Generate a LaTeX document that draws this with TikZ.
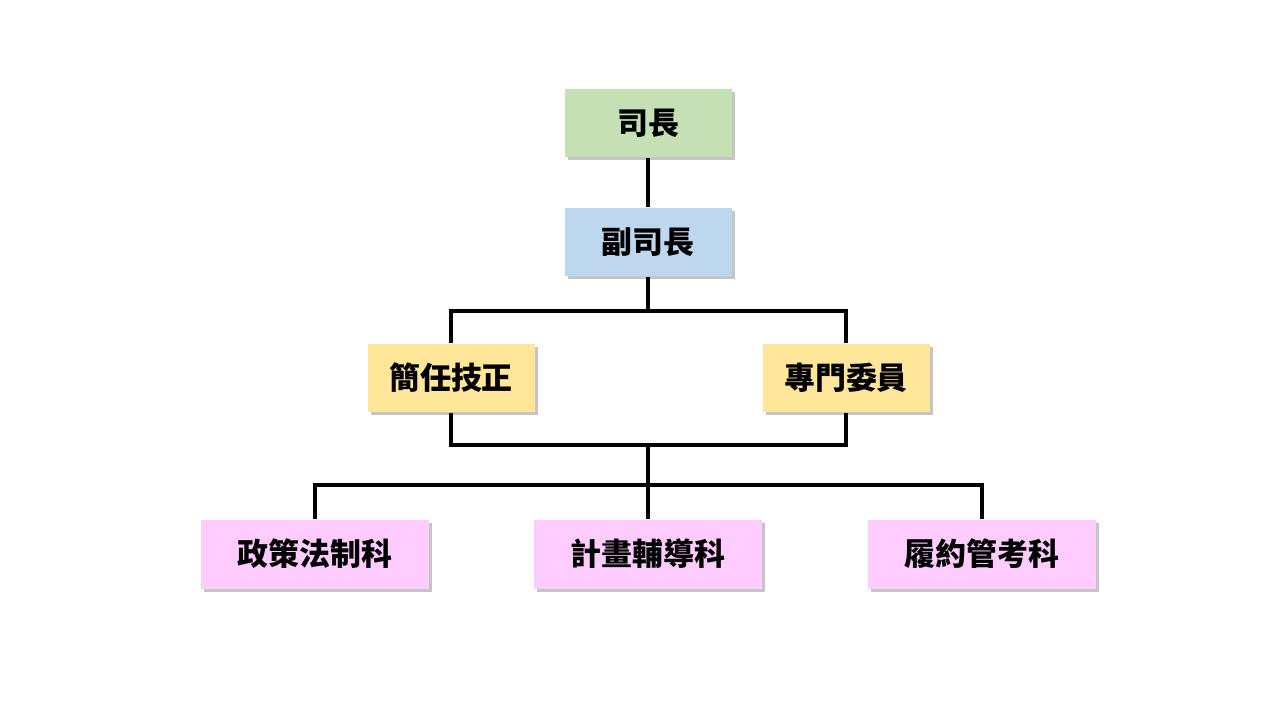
\documentclass[tikz,border=0pt]{standalone}
\usepackage{fontspec}
\newfontfamily\cjk{Noto Sans CJK TC}
\usetikzlibrary{shadows,positioning}
\definecolor{headgreen}{RGB}{197,224,180}
\definecolor{deputyblue}{RGB}{189,215,238}
\definecolor{staffyellow}{RGB}{255,230,153}
\definecolor{sectionpink}{RGB}{255,204,255}
\tikzset{
  box/.style={draw=none, inner sep=0pt, minimum width=1.67cm, minimum height=0.68cm,
    font=\cjk\bfseries\fontsize{8.8pt}{10pt}\selectfont,
    drop shadow={opacity=0.45, shadow xshift=0.3mm, shadow yshift=-0.3mm}},
  wide/.style={box, minimum width=2.28cm, minimum height=0.69cm},
  link/.style={draw=black, line width=1pt}
}
\begin{document}
\begin{tikzpicture}[x=0.1mm, y=0.1mm]
  \useasboundingbox[fill=white] (0,0) rectangle (1280,720);
  \node[box, fill=headgreen] (head) at (648,597) {司長};
  \node[box, fill=deputyblue] (deputy) at (648,478) {副司長};
  \node[box, fill=staffyellow] (tech) at (451,342) {簡任技正};
  \node[box, fill=staffyellow] (comm) at (846,342) {專門委員};
  \node[wide, fill=sectionpink] (law) at (315,166) {政策法制科};
  \node[wide, fill=sectionpink] (plan) at (648,166) {計畫輔導科};
  \node[wide, fill=sectionpink] (audit) at (982,166) {履約管考科};
  \coordinate (split) at (648,409);
  \coordinate (merge) at (648,275);
  \coordinate (fork) at (648,235);
  \draw[link] (head) -- (deputy);
  \draw[link] (deputy) -- (split);
  \draw[link] (tech.north) |- (split) -| (comm.north);
  \draw[link] (tech.south) |- (merge) -| (comm.south);
  \draw[link] (merge) -- (plan);
  \draw[link] (law.north) |- (fork) -| (audit.north);
\end{tikzpicture}
\end{document}
